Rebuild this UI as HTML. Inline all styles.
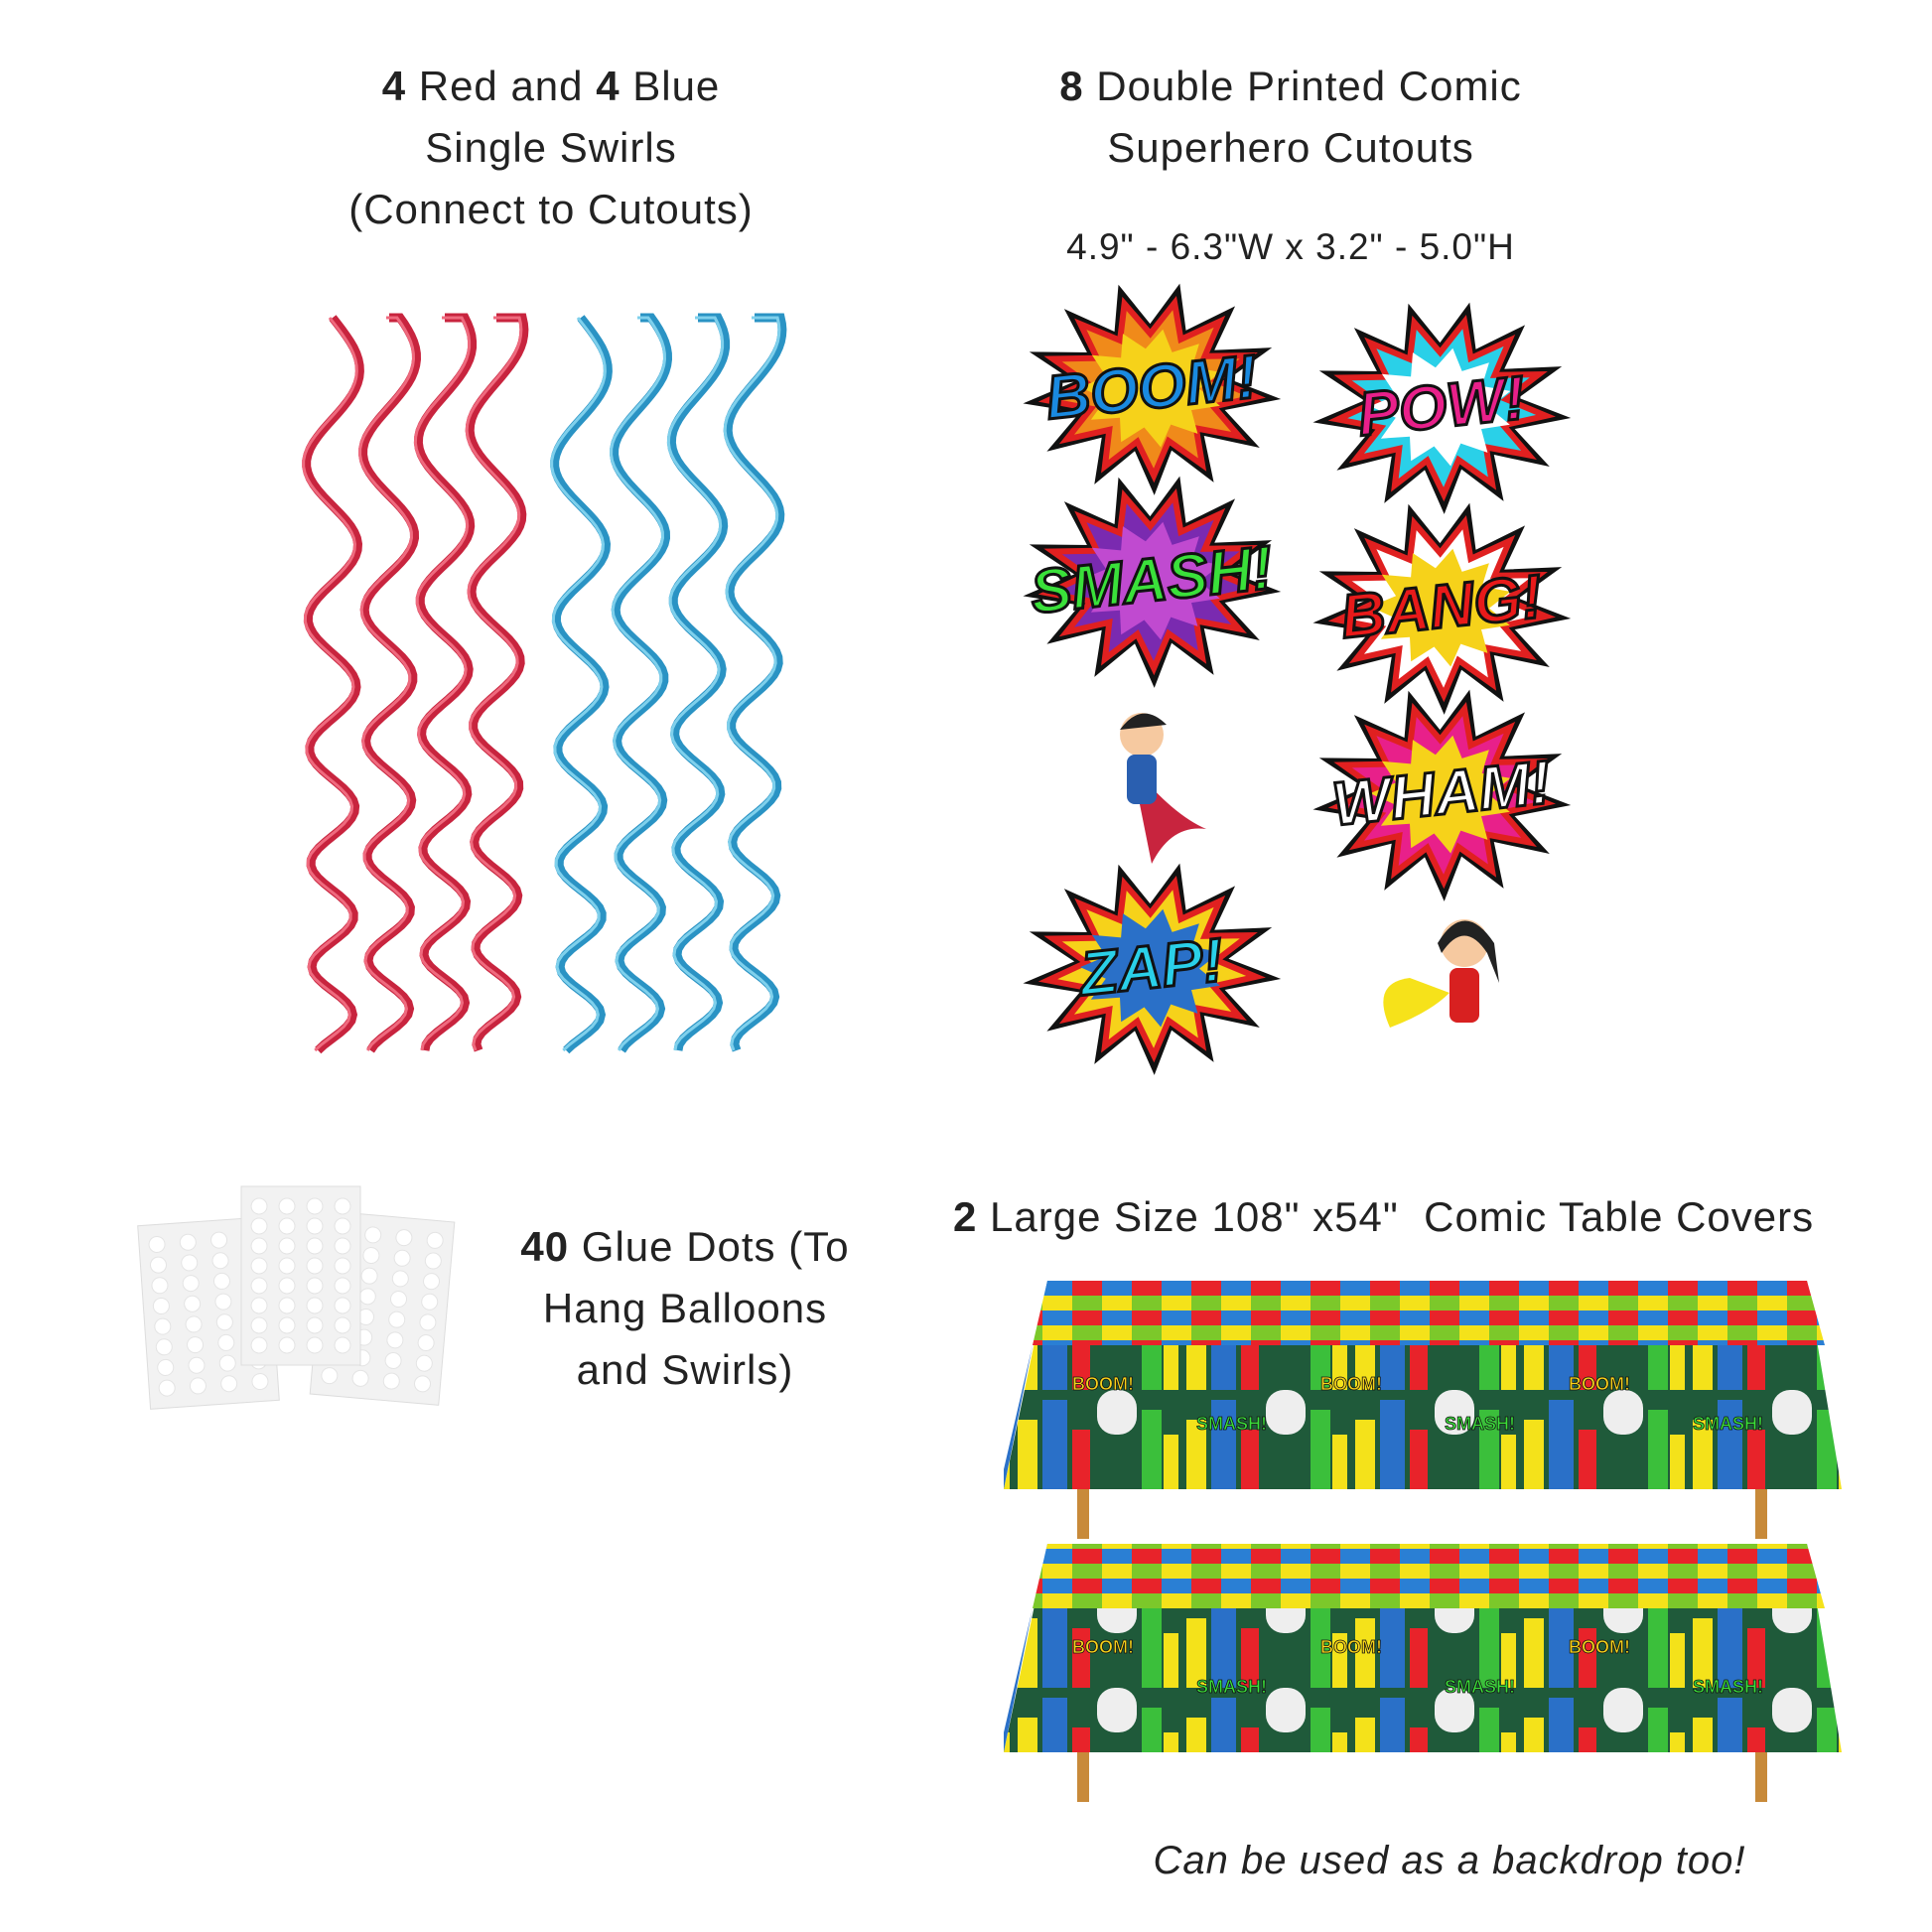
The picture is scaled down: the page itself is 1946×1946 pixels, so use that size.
<!DOCTYPE html>
<html><head><meta charset="utf-8">
<style>
body{margin:0;background:#fff;}
#w{position:relative;width:1946px;height:1946px;overflow:hidden;background:#fff;font-family:"Liberation Sans",sans-serif;color:#222;}
.t{position:absolute;text-align:center;font-size:42px;line-height:62px;letter-spacing:1px;}
svg{position:absolute;left:0;top:0;}
</style></head><body><div id="w">
<div class="t" style="left:255px;width:600px;top:56px;"><b>4</b> Red and <b>4</b> Blue<br>Single Swirls<br>(Connect to Cutouts)</div>
<div class="t" style="left:950px;width:700px;top:56px;"><b>8</b> Double Printed Comic<br>Superhero Cutouts</div>
<div class="t" style="left:950px;width:700px;top:218px;font-size:37px;">4.9" - 6.3"W x 3.2" - 5.0"H</div>
<div class="t" style="left:480px;width:420px;top:1225px;"><b>40</b> Glue Dots (To<br>Hang Balloons<br>and Swirls)</div>
<div class="t" style="left:960px;width:930px;top:1195px;text-align:left;"><b>2</b> Large Size 108" x54"&nbsp; Comic Table Covers</div>
<div class="t" style="left:1100px;width:720px;top:1843px;font-style:italic;font-size:40px;">Can be used as a backdrop too!</div>
<svg id="s" width="1946" height="1946" viewBox="0 0 1946 1946"></svg>
</div>
<script>
var s=document.getElementById('s'),h='';
h+='<defs><pattern id="grid" width="60" height="30" patternUnits="userSpaceOnUse"><rect width="60" height="30" fill="#7cc82a"/><rect width="30" height="15" fill="#e8232a"/><rect x="30" y="15" width="30" height="15" fill="#f4e21a"/><rect x="30" width="30" height="15" fill="#2a7fd4"/></pattern>'+
'<pattern id="city" width="170" height="100" patternUnits="userSpaceOnUse"><rect width="170" height="100" fill="#1f5a3a"/><rect x="5" y="30" width="20" height="70" fill="#f4e21a"/><rect x="30" y="10" width="25" height="90" fill="#2a70c8"/><rect x="60" y="40" width="18" height="60" fill="#e8232a"/><rect x="85" y="0" width="40" height="45" rx="18" fill="#eee"/><rect x="130" y="20" width="20" height="80" fill="#3bbf3b"/><rect x="152" y="45" width="15" height="55" fill="#f4e21a"/></pattern></defs>';
function swirl(x,c1,c2,ph){
 var p='M'+x+' 320';
 for(var y=320;y<=1060;y+=6){var t=(y-320)/740;var a=28-8*t;var f=0.028+0.02*t;p+=' L'+(x+a*Math.sin((y-320)*f+ph)).toFixed(1)+' '+y;}
 return '<path d="'+p+'" fill="none" stroke="'+c1+'" stroke-width="9"/><path d="'+p+'" fill="none" stroke="'+c2+'" stroke-width="3" transform="translate(-3,0)"/>';
}
[335,392,448,500].forEach(function(x,i){h+=swirl(x,'#c8243e','#ef6a7e',i*0.4);});
[585,645,703,760].forEach(function(x,i){h+=swirl(x,'#2a93c4','#7fd0ec',i*0.4);});
function star(cx,cy,r1,r2,n,fill,stroke,rot){var p=[];for(var i=0;i<n*2;i++){var r=i%2?r2:r1;var a=Math.PI*i/n+(rot||0);p.push((cx+r*Math.cos(a)*1.2).toFixed(1)+','+(cy+r*Math.sin(a)).toFixed(1));}return '<polygon points="'+p.join(' ')+'" fill="'+fill+'" stroke="'+stroke+'" stroke-width="6"/>';}
function burst(cx,cy,c1,c2,txt,tc){
 h+=star(cx,cy,100,60,13,'#111','#111',0.1)+star(cx,cy,88,55,13,c1,'#e02020',0.1)+star(cx,cy,60,40,11,c2,'none',0.3);
 h+='<text x="'+cx+'" y="'+(cy+20)+'" text-anchor="middle" font-family="Liberation Sans" font-weight="bold" font-style="italic" font-size="62" fill="'+tc+'" stroke="#111" stroke-width="3" transform="rotate(-6 '+cx+' '+cy+')">'+txt+'</text>';
}
burst(1160,391,'#f08a1a','#f6d21a','BOOM!','#1a8ae0');
burst(1452,410,'#2ad0e8','#fff','POW!','#e8208a');
burst(1160,585,'#7a2ab0','#c04ad0','SMASH!','#3ae03a');
burst(1452,612,'#fff','#f6d21a','BANG!','#e81a1a');
burst(1452,800,'#e8208a','#f6d21a','WHAM!','#fff');
burst(1160,975,'#f6d21a','#2a70c8','ZAP!','#2ad0e8');
// heroes
h+='<path d="M1140 770 Q1180 820 1215 835 Q1180 830 1160 870 Z" fill="#c8243e"/><circle cx="1150" cy="740" r="22" fill="#f6c9a0"/><path d="M1128 735 Q1150 705 1175 730" fill="#222"/><rect x="1135" y="760" width="30" height="50" rx="8" fill="#2a5fb0"/>';
h+='<path d="M1420 985 Q1380 990 1400 1035 Q1440 1020 1460 1000 Z" fill="#f6e21a"/><circle cx="1475" cy="950" r="24" fill="#f6c9a0"/><path d="M1448 950 Q1475 905 1505 950 L1510 990 L1498 960 Q1475 925 1452 960 Z" fill="#222"/><rect x="1460" y="975" width="30" height="55" rx="8" fill="#d82020"/>';
// glue dots
function sheet(x,y,w,hh,r){var g='<g transform="rotate('+r+' '+(x+w/2)+' '+(y+hh/2)+')"><rect x="'+x+'" y="'+y+'" width="'+w+'" height="'+hh+'" fill="#f2f2f2" stroke="#ddd"/>';for(var i=0;i<4;i++)for(var j=0;j<8;j++)g+='<circle cx="'+(x+18+i*(w-36)/3)+'" cy="'+(y+20+j*(hh-40)/7)+'" r="8" fill="#fff" stroke="#e4e4e4"/>';return g+'</g>';}
h+=sheet(145,1230,130,185,-4)+sheet(320,1225,130,185,5)+sheet(243,1195,120,180,0);
// tables
function table(y){
 var g='';
 g+='<rect x="1085" y="'+(y+180)+'" width="12" height="80" fill="#c88a3a"/><rect x="1768" y="'+(y+180)+'" width="12" height="80" fill="#c88a3a"/>';
 g+='<polygon points="1055,'+y+' 1820,'+y+' 1855,'+(y+210)+' 1011,'+(y+210)+'" fill="url(#city)"/>';
 g+='<polygon points="1055,'+y+' 1820,'+y+' 1838,'+(y+65)+' 1040,'+(y+65)+'" fill="url(#grid)"/>';
 g+='<polygon points="1011,'+(y+210)+' 1040,'+(y+65)+' 1011,'+(y+190)+'" fill="#2a70c8"/>';
 ['BOOM!','SMASH!','BOOM!','SMASH!','BOOM!','SMASH!'].forEach(function(t,i){g+='<text x="'+(1080+i*125)+'" y="'+(y+(i%2?150:110))+'" font-family="Liberation Sans" font-weight="bold" font-size="18" fill="'+(i%2?'#3ae03a':'#f6d21a')+'" stroke="#111" stroke-width="0.8">'+t+'</text>';});
 return g;
}
h+=table(1290)+table(1555);
s.innerHTML=h;
</script>
</body></html>
